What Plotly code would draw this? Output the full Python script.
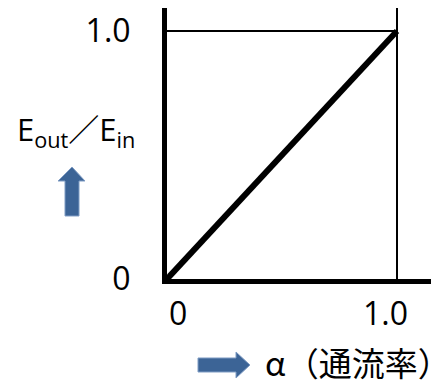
import plotly.graph_objects as go

# data
alpha = [0.0, 1.0]          # 通流率
ratio = [0.0, 1.0]          # Eout/Ein
x_ticks = [0.0, 1.0]
x_ticklabels = ["0", "1.0"]
y_ticks = [0.0, 1.0]
y_ticklabels = ["0", "1.0"]
ref_level = 1.0

OFF = 8                      # default page body margin
W, H = 439 - OFF, 384 - OFF
L, R, T, B = 167 - OFF, 0, 8 - OFF, 384 - 279
pw, ph = W - L - R, H - T - B
px_per_unit_x = 230.0
px_per_unit_y = 248.0
FONT = "'Open Sans', 'Noto Sans CJK JP', sans-serif"
CJK = "'Noto Sans CJK JP', sans-serif"
BLUE = "#3C6496"


def pxp(px, py):
    # page pixel -> paper fraction
    fx, fy = px - OFF, py - OFF
    return ((fx - L) / pw, (H - B - fy) / ph)


fig = go.Figure()
fig.add_trace(go.Scatter(x=alpha, y=ratio, mode="lines",
                         line=dict(color="black", width=6), showlegend=False,
                         hoverinfo="skip"))

shapes = [
    dict(type="line", xref="x", yref="paper", x0=ref_level, x1=ref_level, y0=0, y1=1,
         line=dict(color="black", width=2)),
    dict(type="line", xref="x", yref="y", x0=0, x1=ref_level, y0=ref_level, y1=ref_level,
         line=dict(color="black", width=2)),
]


def arrow_path(pts):
    s = ""
    for i, (a, b) in enumerate(pts):
        xx, yy = pxp(a, b)
        s += ("M" if i == 0 else "L") + f"{xx:.4f},{yy:.4f} "
    return s + "Z"


up = [(65, 216), (79, 216), (79, 181), (85, 181), (72, 167), (58, 181), (65, 181)]
rt = [(198, 358), (198, 372), (236, 372), (236, 378), (250, 365), (236, 352), (236, 358)]
for pts in (up, rt):
    shapes.append(dict(type="path", xref="paper", yref="paper", path=arrow_path(pts),
                       fillcolor=BLUE, line=dict(color="#7F9CC4", width=1)))

annotations = []
for xv, lab, sh in zip(x_ticks, x_ticklabels, [11, -12]):
    annotations.append(dict(x=xv, y=0, xref="x", yref="y", text=lab, showarrow=False,
                            xanchor="center", yanchor="middle",
                            xshift=sh, yshift=-33, font=dict(family=FONT, size=32, color="black")))

ex, ey = pxp(76, 131)
annotations.append(dict(x=ex, y=ey, xref="paper", yref="paper", xanchor="center", yanchor="middle",
                        text="E<sub>out</sub>／E<sub>in</sub>", showarrow=False,
                        font=dict(family=FONT, size=31, color="black")))
bx, by = pxp(358, 362)
annotations.append(dict(x=bx, y=by, xref="paper", yref="paper", xanchor="center", yanchor="middle",
                        text="α（通流率）", showarrow=False,
                        font=dict(family=CJK, size=33, color="black")))

fig.update_layout(
    width=W, height=H,
    margin=dict(l=L, r=R, t=T, b=B, pad=0),
    paper_bgcolor="white", plot_bgcolor="white",
    shapes=shapes, annotations=annotations,
    xaxis=dict(range=[0, pw / px_per_unit_x], showgrid=False, zeroline=False,
               showline=True, linecolor="black", linewidth=5,
               showticklabels=False, ticks="", fixedrange=True),
    yaxis=dict(range=[0, ph / px_per_unit_y], showgrid=False, zeroline=False,
               showline=True, linecolor="black", linewidth=5,
               tickvals=y_ticks, ticktext=y_ticklabels, ticks="",
               ticklabelstandoff=25,
               tickfont=dict(family=FONT, size=32, color="black"), fixedrange=True),
    showlegend=False,
)

fig.write_html("out.html", config={"displayModeBar": False})
